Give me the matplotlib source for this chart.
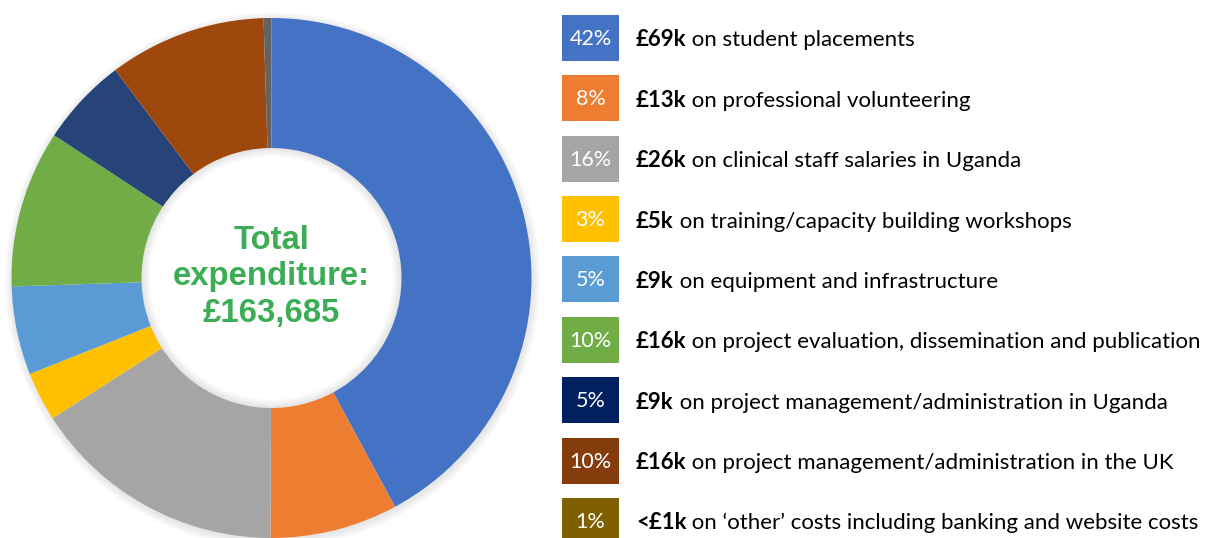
import numpy as np
import matplotlib
matplotlib.use("Agg")
from matplotlib import pyplot as plt
from matplotlib.patches import Wedge, Rectangle

# Expenditure breakdown (thousands of pounds), in the order drawn clockwise from 12 o'clock
amounts_k = [69, 13, 26, 5, 9, 16, 9, 16, 0.8]
pct_labels = ["42%", "8%", "16%", "3%", "5%", "10%", "5%", "10%", "1%"]
amount_labels = ["£69k", "£13k", "£26k", "£5k", "£9k", "£16k", "£9k", "£16k", "<£1k"]
descriptions = [
    "on student placements",
    "on professional volunteering",
    "on clinical staff salaries in Uganda",
    "on training/capacity building workshops",
    "on equipment and infrastructure",
    "on project evaluation, dissemination and publication",
    "on project management/administration in Uganda",
    "on project management/administration in the UK",
    "on \u2018other\u2019 costs including banking and website costs",
]
total_text = "Total\nexpenditure:\n£163,685"

ring_colors = ["#4472C4", "#ED7D31", "#A5A5A5", "#FFC000", "#5B9BD5",
               "#70AD47", "#264478", "#9E480E", "#636363"]
box_colors = ["#4472C4", "#ED7D31", "#A5A5A5", "#FFC000", "#5B9BD5",
              "#70AD47", "#002060", "#843C0C", "#7F6000"]

W, H = 1205, 538
fig = plt.figure(figsize=(W / 100, H / 100), dpi=100)
ax = fig.add_axes([0, 0, 1, 1])

# donut geometry (pixel space, y up)
cx, cy = 271.5, H - 278
r_out, r_in = 260, 130

# soft outer shadow (rings only, so the hole stays white)
for d in range(1, 9):
    ax.add_patch(Wedge((cx + 1, cy - 2), r_out + d, 0, 360, width=d + 4,
                       facecolor="black", alpha=0.012, edgecolor="none", zorder=0))

ax.pie(amounts_k, colors=ring_colors, startangle=90, counterclock=False,
       center=(cx, cy), radius=r_out,
       wedgeprops=dict(width=r_out - r_in, edgecolor="none", linewidth=0))

# inner shadow in the hole
for d in range(1, 10):
    ax.add_patch(Wedge((cx, cy), r_in, 0, 360, width=d, facecolor="black",
                       alpha=0.01, edgecolor="none", zorder=5))

ax.text(cx, cy + 1, total_text, ha="center", va="center", color="#3DAD55",
        fontsize=23.7, fontweight="bold", family="Liberation Sans",
        linespacing=1.24, zorder=6)

# legend on the right
box_x, box_w, box_h = 562, 57, 46
row0, row_step = 38, 60.36
text_x = 636
for i in range(len(amounts_k)):
    yc = H - (row0 + i * row_step)
    ax.add_patch(Rectangle((box_x, yc - box_h / 2), box_w, box_h,
                           facecolor=box_colors[i], edgecolor="none"))
    ax.text(box_x + box_w / 2, yc - 1, pct_labels[i], ha="center", va="center",
            color="white", fontsize=15.5, family="Lato")
    bold = ax.text(text_x, yc - 2, amount_labels[i], ha="left", va="center",
                   color="black", fontsize=16, fontweight="bold", family="Lato")
    ax.annotate(" " + descriptions[i], xy=(1, 0), xycoords=bold,
                ha="left", va="bottom", color="black", fontsize=16,
                family="Lato")

ax.set_xlim(0, W)
ax.set_ylim(0, H)
ax.set_aspect("equal")
ax.axis("off")

fig.savefig("out.png", dpi=100, facecolor="white")
